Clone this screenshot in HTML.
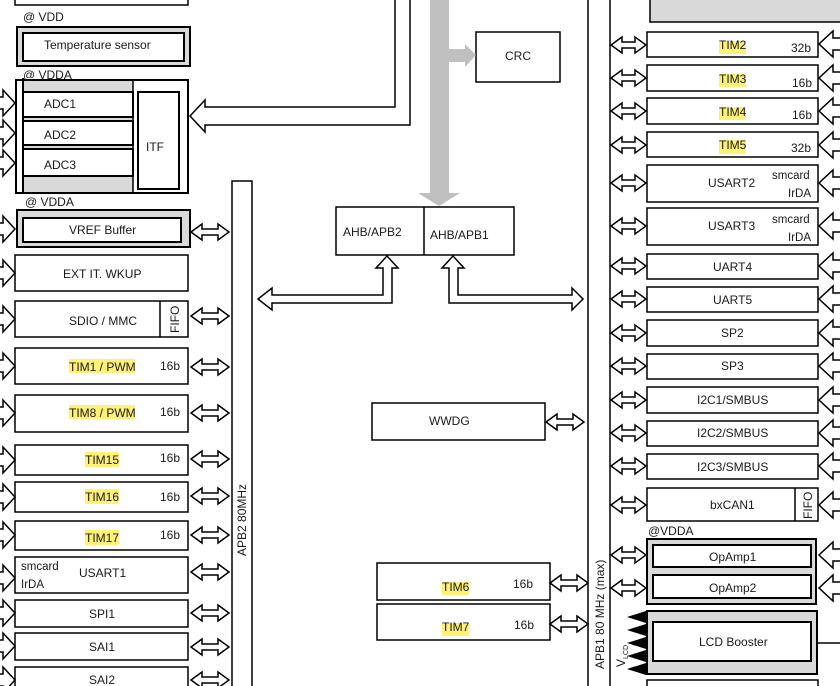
<!DOCTYPE html>
<html><head><meta charset="utf-8"><style>
html,body{margin:0;padding:0;background:#fff;}
svg{display:block;font-family:"Liberation Sans",Arial,sans-serif;}
text{font-size:12px;fill:#1a1a1a;}
text.s{font-size:11.5px;}
text.xs{font-size:7px;}
</style></head><body>
<svg width="840" height="686" viewBox="0 0 840 686" xmlns="http://www.w3.org/2000/svg">
<defs>
<path id="dl" d="M0,0 L11,-8 L11,-3 L27,-3 L27,-8 L38,0 L27,8 L27,3 L11,3 L11,8 Z" fill="#fff" stroke="#000" stroke-width="1.5"/>
<path id="dr" d="M0,0 L11,-8 L11,-3 L24,-3 L24,-8 L35,0 L24,8 L24,3 L11,3 L11,8 Z" fill="#fff" stroke="#000" stroke-width="1.5"/>
<path id="ra" d="M21,-6 L14,-6 L14,-13 L0,0 L14,13 L14,6 L21,6" fill="#fff" stroke="#000" stroke-width="1.5"/>
<path id="la" d="M-2,-6 L3,-6 L3,-13 L15,0 L3,13 L3,6 L-2,6" fill="#fff" stroke="#000" stroke-width="1.5"/>
</defs>
<g fill="none" stroke="#000" stroke-width="1.5">
<rect x="15" y="-5" width="173" height="10" fill="#fff"/>
<rect x="17" y="27" width="173" height="39" fill="#d9d9d9" stroke-width="2"/>
<rect x="23" y="33" width="161" height="28" fill="#fff" stroke-width="2"/>
<rect x="16" y="80" width="172" height="113" fill="#fff" stroke-width="2"/>
<rect x="23" y="81" width="110" height="111" fill="#d9d9d9" stroke="none"/>
<line x1="23" y1="78" x2="23" y2="193" stroke-width="2"/>
<line x1="133" y1="80" x2="133" y2="193"/>
<rect x="23" y="92" width="110" height="25" fill="#fff" stroke-width="2"/>
<rect x="23" y="121" width="110" height="24" fill="#fff" stroke-width="2"/>
<rect x="23" y="149" width="110" height="27" fill="#fff" stroke-width="2"/>
<rect x="138" y="92" width="41" height="97" fill="#fff" stroke-width="2"/>
<path d="M395,0 L395,107 L205,107 L205,100 L190,116 L205,132 L205,125 L410,125 L410,0" fill="#fff"/>
<rect x="17" y="210" width="173" height="37" fill="#d9d9d9" stroke-width="2"/>
<rect x="23" y="218" width="158" height="24" fill="#fff" stroke-width="2"/>
<rect x="15" y="255" width="173" height="36"/>
<rect x="15" y="301" width="173" height="36"/>
<line x1="160" y1="301" x2="160" y2="337"/>
<rect x="15" y="348" width="173" height="36"/>
<rect x="15" y="395" width="173" height="37"/>
<rect x="15" y="445" width="173" height="30"/>
<rect x="15" y="482" width="173" height="30"/>
<rect x="15" y="521" width="173" height="29"/>
<rect x="15" y="557" width="173" height="36"/>
<rect x="15" y="600" width="173" height="27"/>
<rect x="15" y="633" width="173" height="27"/>
<rect x="15" y="667" width="173" height="30"/>
<rect x="232" y="181" width="20" height="520" fill="#fff"/>
<line x1="588" y1="0" x2="588" y2="686"/>
<line x1="610" y1="0" x2="610" y2="686"/>
<rect x="476" y="32" width="84" height="50"/>
<rect x="336" y="207" width="178" height="48"/>
<line x1="424" y1="207" x2="424" y2="255"/>
<rect x="372" y="403" width="173" height="37"/>
<rect x="377" y="563" width="173" height="37"/>
<rect x="377" y="604" width="173" height="36"/>
<path d="M387,256 L398,268 L392,268 L392,303 L272,303 L272,310 L258,299 L272,288 L272,295 L383,295 L383,268 L376,268 Z" fill="#fff"/>
<path d="M453,256 L464,268 L458,268 L458,295 L572,295 L572,288 L583,299 L572,310 L572,303 L449,303 L449,268 L442,268 Z" fill="#fff"/>
<rect x="650" y="-5" width="195" height="27" fill="#d9d9d9"/>
<rect x="647" y="32" width="171" height="25"/>
<rect x="647" y="65" width="171" height="26"/>
<rect x="647" y="98" width="171" height="26"/>
<rect x="647" y="132" width="171" height="25"/>
<rect x="647" y="165" width="171" height="37"/>
<rect x="647" y="208" width="171" height="37"/>
<rect x="647" y="254" width="171" height="25"/>
<rect x="647" y="287" width="171" height="25"/>
<rect x="647" y="320" width="171" height="26"/>
<rect x="647" y="354" width="171" height="25"/>
<rect x="647" y="387" width="171" height="26"/>
<rect x="647" y="421" width="171" height="25"/>
<rect x="647" y="454" width="171" height="25"/>
<rect x="647" y="488" width="171" height="33"/>
<line x1="795" y1="488" x2="795" y2="521"/>
<rect x="647" y="539" width="169" height="65" fill="#d9d9d9" stroke-width="2"/>
<rect x="653" y="545" width="158" height="22" fill="#fff" stroke-width="2"/>
<rect x="653" y="575" width="158" height="23" fill="#fff" stroke-width="2"/>
<rect x="647" y="611" width="170" height="63" fill="#d9d9d9" stroke-width="2"/>
<rect x="653" y="622" width="158" height="39" fill="#fff" stroke-width="2"/>
<line x1="817" y1="643" x2="840" y2="643"/>
<rect x="647" y="680" width="171" height="20"/>
</g>
<rect x="430" y="0" width="19" height="194" fill="#c0c0c0"/>
<polygon points="418,193 460,193 439,206" fill="#c0c0c0"/>
<rect x="449" y="49" width="16" height="13" fill="#c0c0c0"/>
<polygon points="465,44 476,55 465,67" fill="#c0c0c0"/>
<g fill="#000">
<polygon points="627,617 646,611 646,623"/>
<polygon points="627,630 646,624 646,636"/>
<polygon points="627,643 646,637 646,649"/>
<polygon points="627,656 646,650 646,662"/>
<polygon points="627,669 646,663 646,675"/>
</g>
<use href="#dl" x="191" y="232"/>
<use href="#dl" x="191" y="316"/>
<use href="#dl" x="191" y="367"/>
<use href="#dl" x="191" y="413"/>
<use href="#dl" x="191" y="459"/>
<use href="#dl" x="191" y="496"/>
<use href="#dl" x="191" y="535"/>
<use href="#dl" x="191" y="572"/>
<use href="#dl" x="191" y="613"/>
<use href="#dl" x="191" y="647"/>
<use href="#dl" x="191" y="680"/>
<use href="#dl" x="546" y="422"/>
<use href="#dl" x="550" y="583"/>
<use href="#dl" x="550" y="624"/>
<use href="#dr" x="611" y="45"/>
<use href="#dr" x="611" y="78"/>
<use href="#dr" x="611" y="111"/>
<use href="#dr" x="611" y="145"/>
<use href="#dr" x="611" y="183"/>
<use href="#dr" x="611" y="226"/>
<use href="#dr" x="611" y="266"/>
<use href="#dr" x="611" y="299"/>
<use href="#dr" x="611" y="333"/>
<use href="#dr" x="611" y="366"/>
<use href="#dr" x="611" y="400"/>
<use href="#dr" x="611" y="433"/>
<use href="#dr" x="611" y="466"/>
<use href="#dr" x="611" y="505"/>
<use href="#dr" x="611" y="555"/>
<use href="#dr" x="611" y="588"/>
<use href="#ra" x="819" y="44"/>
<use href="#ra" x="819" y="78"/>
<use href="#ra" x="819" y="111"/>
<use href="#ra" x="819" y="145"/>
<use href="#ra" x="819" y="183"/>
<use href="#ra" x="819" y="226"/>
<use href="#ra" x="819" y="266"/>
<use href="#ra" x="819" y="299"/>
<use href="#ra" x="819" y="333"/>
<use href="#ra" x="819" y="366"/>
<use href="#ra" x="819" y="400"/>
<use href="#ra" x="819" y="433"/>
<use href="#ra" x="819" y="466"/>
<use href="#ra" x="819" y="505"/>
<use href="#ra" x="819" y="555"/>
<use href="#ra" x="819" y="588"/>
<use href="#la" x="0" y="103"/>
<use href="#la" x="0" y="133"/>
<use href="#la" x="0" y="163"/>
<use href="#la" x="0" y="229"/>
<use href="#la" x="0" y="273"/>
<use href="#la" x="0" y="319"/>
<use href="#la" x="0" y="366"/>
<use href="#la" x="0" y="413"/>
<use href="#la" x="0" y="460"/>
<use href="#la" x="0" y="497"/>
<use href="#la" x="0" y="535"/>
<use href="#la" x="0" y="578"/>
<use href="#la" x="0" y="613"/>
<use href="#la" x="0" y="646"/>
<use href="#la" x="0" y="680"/>
<g fill="#fff176">
<rect x="69" y="359" width="66" height="14"/>
<rect x="69" y="405" width="66" height="14"/>
<rect x="85" y="452" width="34" height="15"/>
<rect x="85" y="489" width="34" height="15"/>
<rect x="85" y="530" width="34" height="15"/>
<rect x="719" y="41" width="27" height="13"/>
<rect x="719" y="74" width="27" height="13"/>
<rect x="719" y="107" width="27" height="13"/>
<rect x="719" y="140" width="27" height="14"/>
<rect x="442" y="582" width="27" height="13"/>
<rect x="442" y="623" width="27" height="13"/>
</g>
<text x="23" y="21">@ VDD</text>
<text x="44" y="49">Temperature sensor</text>
<text x="23" y="79">@ VDDA</text>
<text x="44" y="108">ADC1</text>
<text x="44" y="139">ADC2</text>
<text x="44" y="169">ADC3</text>
<text x="146" y="151">ITF</text>
<text x="25" y="206">@ VDDA</text>
<text x="69" y="234">VREF Buffer</text>
<text x="63" y="278">EXT IT. WKUP</text>
<text x="69" y="325">SDIO / MMC</text>
<text transform="translate(179,333) rotate(-90)">FIFO</text>
<text x="69" y="371">TIM1 / PWM</text><text x="160" y="370">16b</text>
<text x="69" y="417">TIM8 / PWM</text><text x="160" y="416">16b</text>
<text x="85" y="464">TIM15</text><text x="160" y="462">16b</text>
<text x="85" y="501">TIM16</text><text x="160" y="501">16b</text>
<text x="85" y="542">TIM17</text><text x="160" y="539">16b</text>
<text class="s" x="21" y="570">smcard</text>
<text class="s" x="21" y="588">IrDA</text>
<text x="79" y="577">USART1</text>
<text x="89" y="618">SPI1</text>
<text x="89" y="651">SAI1</text>
<text x="89" y="684">SAI2</text>
<text transform="translate(246,556) rotate(-90)">APB2 80MHz</text>
<text x="505" y="60">CRC</text>
<text x="343" y="236">AHB/APB2</text>
<text x="430" y="239">AHB/APB1</text>
<text x="429" y="425">WWDG</text>
<text x="442" y="591">TIM6</text><text x="513" y="588">16b</text>
<text x="442" y="631">TIM7</text><text x="514" y="629">16b</text>
<text transform="translate(604,669) rotate(-90)">APB1 80 MHz (max)</text>
<text x="719" y="49">TIM2</text><text x="791" y="52">32b</text>
<text x="719" y="83">TIM3</text><text x="792" y="87">16b</text>
<text x="719" y="116">TIM4</text><text x="792" y="119">16b</text>
<text x="719" y="149">TIM5</text><text x="791" y="152">32b</text>
<text x="708" y="187">USART2</text><text class="s" x="772" y="179">smcard</text><text class="s" x="788" y="197">IrDA</text>
<text x="708" y="230">USART3</text><text class="s" x="772" y="223">smcard</text><text class="s" x="788" y="241">IrDA</text>
<text x="713" y="271">UART4</text>
<text x="713" y="304">UART5</text>
<text x="721" y="337">SP2</text>
<text x="721" y="370">SP3</text>
<text x="697" y="404">I2C1/SMBUS</text>
<text x="697" y="437">I2C2/SMBUS</text>
<text x="697" y="471">I2C3/SMBUS</text>
<text x="710" y="509">bxCAN1</text>
<text transform="translate(812,519) rotate(-90)">FIFO</text>
<text x="648" y="535">@VDDA</text>
<text x="709" y="561">OpAmp1</text>
<text x="709" y="592">OpAmp2</text>
<text x="699" y="646">LCD Booster</text>
<text transform="translate(625,667) rotate(-90)">V</text>
<text class="xs" transform="translate(628,659) rotate(-90)">LCD</text>
</svg>
</body></html>
